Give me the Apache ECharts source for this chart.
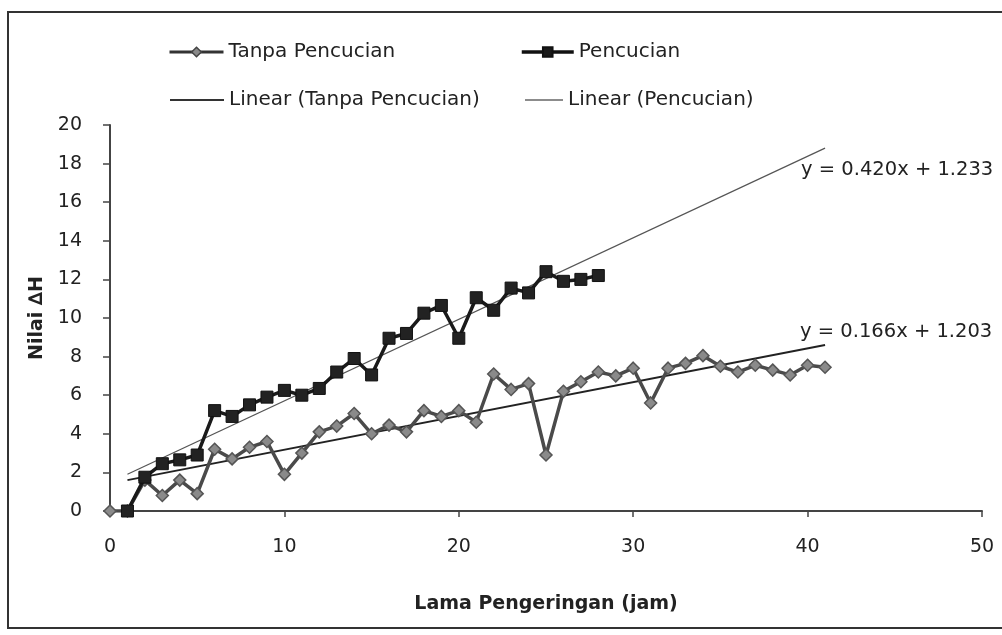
<!DOCTYPE html>
<html><head><meta charset="utf-8">
<script src="https://cdn.jsdelivr.net/npm/echarts@6/dist/echarts.min.js"></script>
<style>html,body{margin:0;padding:0;background:#fff}#c{width:1002px;height:635px}</style>
</head><body><div id="c"></div>
<script>
// Lama Pengeringan (jam)
const xTanpa = [0,1,2,3,4,5,6,7,8,9,10,11,12,13,14,15,16,17,18,19,20,21,22,23,24,25,26,27,28,29,30,31,32,33,34,35,36,37,38,39,40,41];
const yTanpa = [0,0,1.6,0.8,1.6,0.9,3.2,2.7,3.3,3.6,1.9,3.0,4.1,4.4,5.05,4.0,4.45,4.1,5.2,4.9,5.2,4.6,7.1,6.3,6.6,2.9,6.2,6.7,7.2,7.0,7.4,5.6,7.4,7.65,8.05,7.5,7.2,7.55,7.3,7.05,7.55,7.45];
const xPencucian = [1,2,3,4,5,6,7,8,9,10,11,12,13,14,15,16,17,18,19,20,21,22,23,24,25,26,27,28];
const yPencucian = [0,1.75,2.45,2.65,2.9,5.2,4.9,5.5,5.9,6.25,6.0,6.35,7.2,7.9,7.05,8.95,9.2,10.25,10.65,8.95,11.05,10.4,11.55,11.3,12.4,11.9,12.0,12.2];
// trend line end points as drawn in the picture
const trendTanpaX = [1,41];
const trendTanpaY = [1.6,8.6];
const trendPencucianX = [1,41];
const trendPencucianY = [1.9,18.8];
const seriesNames = ['Tanpa Pencucian','Pencucian','Linear (Tanpa Pencucian)','Linear (Pencucian)'];
const equations = ['y = 0.166x + 1.203','y = 0.420x + 1.233'];
const xTicks = [0,10,20,30,40,50];
const yTicks = [0,2,4,6,8,10,12,14,16,18,20];

const zip = (a,b)=>a.map((v,i)=>[v,b[i]]);
const chart = echarts.init(document.getElementById('c'));
const F = '"DejaVu Sans", Verdana, sans-serif';
const legendBase = {orient:'horizontal',itemWidth:54,itemHeight:12,itemGap:6,padding:0,
  textStyle:{fontFamily:F,fontSize:20,color:'#222'}};
chart.setOption({
  animation:false,
  backgroundColor:'#fff',
  grid:{left:110,right:20,top:125,bottom:124},
  legend:[
    Object.assign({},legendBase,{left:168,top:42,
      data:[{name:seriesNames[0],lineStyle:{color:'#333',width:3},itemStyle:{color:'#8a8a8a',borderColor:'#444',borderWidth:1.5}}]}),
    Object.assign({},legendBase,{left:520,top:42,itemWidth:52,
      data:[{name:seriesNames[1],lineStyle:{color:'#111',width:3.5},itemStyle:{color:'#1a1a1a'}}]}),
    Object.assign({},legendBase,{left:170,top:90,itemWidth:54,itemHeight:2,
      data:[{name:seriesNames[2],icon:'rect',itemStyle:{color:'#333'}}]}),
    Object.assign({},legendBase,{left:525,top:90,itemWidth:38,itemHeight:1.5,
      data:[{name:seriesNames[3],icon:'rect',itemStyle:{color:'#666'}}]})
  ],
  xAxis:{type:'value',min:xTicks[0],max:xTicks[xTicks.length-1],interval:10,
    axisLine:{show:true,lineStyle:{color:'#444',width:2}},
    axisTick:{show:true,inside:false,length:6,lineStyle:{color:'#444',width:1.5}},
    splitLine:{show:false},
    axisLabel:{fontFamily:F,fontSize:19,color:'#222',margin:27},
    name:'Lama Pengeringan (jam)',nameLocation:'middle',nameGap:84,
    nameTextStyle:{fontFamily:F,fontSize:19,fontWeight:'bold',color:'#222'}},
  yAxis:{type:'value',min:yTicks[0],max:yTicks[yTicks.length-1],interval:2,
    axisLine:{show:true,lineStyle:{color:'#444',width:2}},
    axisTick:{show:true,length:7,lineStyle:{color:'#444',width:1.5}},
    splitLine:{show:false},
    axisLabel:{fontFamily:F,fontSize:19,color:'#222',margin:28},
    name:'Nilai \u2206H',nameLocation:'middle',nameGap:60,nameRotate:90,
    nameTextStyle:{fontFamily:F,fontSize:19,fontWeight:'bold',color:'#222'}},
  graphic:[
    {type:'rect',shape:{x:8,y:12,width:1000,height:616},style:{fill:'none',stroke:'#333',lineWidth:2},z:-1}
  ],
  series:[
    {name:seriesNames[2],type:'line',data:zip(trendTanpaX,trendTanpaY),symbol:'none',
      lineStyle:{color:'#222',width:2},itemStyle:{color:'#222'},z:1,
      endLabel:{show:true,formatter:equations[0],fontFamily:F,fontSize:19.5,color:'#222',offset:[-33,-13]}},
    {name:seriesNames[3],type:'line',data:zip(trendPencucianX,trendPencucianY),symbol:'none',
      lineStyle:{color:'#555',width:1.2},itemStyle:{color:'#555'},z:1,
      endLabel:{show:true,formatter:equations[1],fontFamily:F,fontSize:19.5,color:'#222',offset:[-32,22]}},
    {name:seriesNames[0],type:'line',data:zip(xTanpa,yTanpa),symbol:'diamond',symbolSize:12,
      lineStyle:{color:'#4a4a4a',width:3.5},itemStyle:{color:'#8a8a8a',borderColor:'#555',borderWidth:1.5},z:3},
    {name:seriesNames[1],type:'line',data:zip(xPencucian,yPencucian),symbol:'rect',symbolSize:12,
      lineStyle:{color:'#1a1a1a',width:3.5},itemStyle:{color:'#222',borderColor:'#111',borderWidth:1},z:4}
  ]
});
</script></body></html>
